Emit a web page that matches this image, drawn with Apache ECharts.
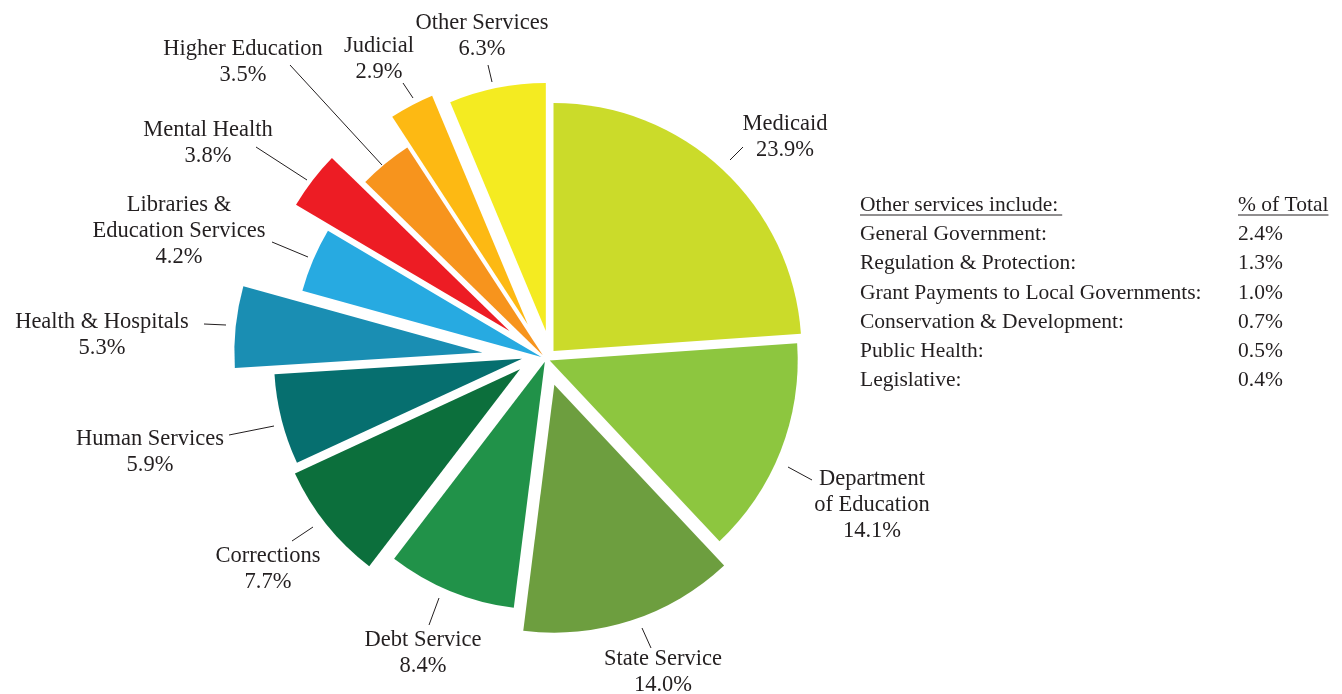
<!DOCTYPE html>
<html>
<head>
<meta charset="utf-8">
<script src="https://cdn.jsdelivr.net/npm/echarts@6/dist/echarts.min.js"></script>
<style>
  html, body { margin: 0; padding: 0; background: #ffffff; }
  #chart { width: 1342px; height: 694px; }
</style>
</head>
<body>
<div id="chart"></div>
<script>
// Spending categories, clockwise from 12 o'clock
const categories = [
  'Medicaid', 'Department\nof Education', 'State Service', 'Debt Service',
  'Corrections', 'Human Services', 'Health & Hospitals',
  'Libraries &\nEducation Services', 'Mental Health', 'Higher Education',
  'Judicial', 'Other Services'
];
// Share of total spending, percent
const shares = [23.9, 14.1, 14.0, 8.4, 7.7, 5.9, 5.3, 4.2, 3.8, 3.5, 2.9, 6.3];

// What "Other Services" is made of
const tableHeaders = ['Other services include:', '% of Total'];
const otherServiceNames = [
  'General Government:', 'Regulation & Protection:',
  'Grant Payments to Local Governments:', 'Conservation & Development:',
  'Public Health:', 'Legislative:'
];
const otherServiceShares = [2.4, 1.3, 1.0, 0.7, 0.5, 0.4];

// ---- styling and layout ----
const sliceColors = [
  '#CBDB2A', '#8DC63F', '#6D9E3F', '#219249', '#0C6F3C', '#066F6F',
  '#1A8EB3', '#27AAE1', '#ED1C24', '#F7941D', '#FDB913', '#F4EB21'
];
// how far each wedge is pulled out from the centre (px) ...
const explode = [11, 4, 27, 3, 28, 24, 64, 5, 46, 5, 39, 28];
// ... and how far (degrees) that pull is turned away from the wedge's middle
const explodeTurn = [0, 0, 0, 0, 17, 15, 0, 0, 0, 0, 0, 11];
const PIE_CENTER = [546, 359];
const PIE_RADIUS = 248;
const TEXT_COLOR = '#231F20';
const FONT = '"Liberation Serif", "Times New Roman", serif';

// label text centre and leader line ends, as offsets from the pie centre
const labelSpots = [
  { text: [239, -222],    line: [[184, -199], [197, -212]] },
  { text: [326, 146],     line: [[242, 108], [266, 121]] },
  { text: [117, 313],     line: [[96, 269], [105, 289]] },
  { text: [-123, 294],    line: [[-107, 239], [-117, 266]] },
  { text: [-278, 210],    line: [[-233, 168], [-254, 182]] },
  { text: [-396, 93],     line: [[-272, 67], [-317, 76]] },
  { text: [-444, -24],    line: [[-320, -34], [-342, -35]] },
  { text: [-367, -128],   line: [[-238, -102], [-274, -117]] },
  { text: [-338, -216],   line: [[-239, -179], [-290, -212]] },
  { text: [-303, -297],   line: [[-164, -194], [-256, -294]] },
  { text: [-167, -300],   line: [[-133, -261], [-143, -276]] },
  { text: [-64, -323],    line: [[-54, -277], [-58, -294]] }
];

const total = shares.reduce((a, b) => a + b, 0);

// one pie per wedge so every wedge can be pulled out by its own amount
const series = [];
let cum = 0;
shares.forEach((v, i) => {
  const mid = ((cum + v / 2) / total) * 2 * Math.PI + explodeTurn[i] * Math.PI / 180;
  cum += v;
  const cx = PIE_CENTER[0] + explode[i] * Math.sin(mid);
  const cy = PIE_CENTER[1] - explode[i] * Math.cos(mid);
  const spot = labelSpots[i];
  series.push({
    type: 'pie',
    center: [cx, cy],
    radius: [0, PIE_RADIUS],
    startAngle: 90,
    clockwise: true,
    silent: true,
    animation: false,
    avoidLabelOverlap: false,
    emphasis: { disabled: true },
    itemStyle: { borderWidth: 0 },
    label: {
      show: false,
      position: 'outside',
      fontFamily: FONT,
      fontSize: 22.5,
      lineHeight: 26,
      color: TEXT_COLOR,
      formatter: p => p.name + '\n' + p.value.toFixed(1) + '%'
    },
    labelLine: { show: false, lineStyle: { color: TEXT_COLOR, width: 1 } },
    labelLayout: () => ({
      x: PIE_CENTER[0] + spot.text[0],
      y: PIE_CENTER[1] + spot.text[1],
      align: 'center',
      verticalAlign: 'middle',
      labelLinePoints: spot.line.map(p => [PIE_CENTER[0] + p[0], PIE_CENTER[1] + p[1]])
    }),
    data: shares.map((s, j) => j === i
      ? { value: s, name: categories[j], itemStyle: { color: sliceColors[j], borderWidth: 0 },
          label: { show: true }, labelLine: { show: true } }
      : { value: s, name: categories[j], itemStyle: { color: 'rgba(0,0,0,0)', borderWidth: 0 },
          label: { show: false }, labelLine: { show: false } })
  });
});

// side table listing the parts of "Other Services"
const TABLE_X = 860, VALUE_X = 1238, HEADER_Y = 205, ROW_Y0 = 234.5, ROW_STEP = 29.2;
const TABLE_FONT_SIZE = 21.5;
const measure = document.createElement('canvas').getContext('2d');
measure.font = TABLE_FONT_SIZE + 'px ' + FONT;
const graphics = [];
const addText = (text, x, y) => graphics.push({
  type: 'text', x: x, y: y, silent: true,
  style: { text: text, fill: TEXT_COLOR, fontFamily: FONT, fontSize: TABLE_FONT_SIZE,
           align: 'left', verticalAlign: 'middle' }
});
[TABLE_X, VALUE_X].forEach((x, k) => {
  addText(tableHeaders[k], x, HEADER_Y);
  const w = measure.measureText(tableHeaders[k]).width + (k === 0 ? 4 : 0);
  graphics.push({
    type: 'line', silent: true,
    shape: { x1: x, y1: HEADER_Y + 10, x2: x + w, y2: HEADER_Y + 10 },
    style: { stroke: TEXT_COLOR, lineWidth: 1 }
  });
});
otherServiceNames.forEach((name, k) => {
  const y = ROW_Y0 + k * ROW_STEP;
  addText(name, TABLE_X, y);
  addText(otherServiceShares[k].toFixed(1) + '%', VALUE_X, y);
});

const chart = echarts.init(document.getElementById('chart'), null, { renderer: 'canvas' });
chart.setOption({
  backgroundColor: '#ffffff',
  animation: false,
  series: series,
  graphic: { elements: graphics }
});
</script>
</body>
</html>
